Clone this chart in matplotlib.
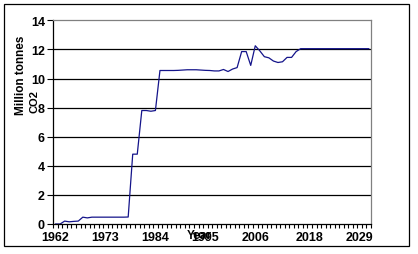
import matplotlib
matplotlib.use("Agg")
import matplotlib.pyplot as plt
from matplotlib.patches import Rectangle
from matplotlib.ticker import FixedLocator
import numpy as np

plt.rcParams['font.family'] = ['Liberation Sans', 'DejaVu Sans']

years = list(range(1962, 2032))
emissions = [
    0.0, 0.0, 0.2, 0.15, 0.18, 0.2, 0.47, 0.42, 0.47, 0.47,      # 1962-1971
    0.47, 0.47, 0.47, 0.47, 0.47, 0.47, 0.48, 4.8, 4.8, 7.8,     # 1972-1981
    7.8, 7.75, 7.8, 10.55, 10.55, 10.55, 10.55, 10.56, 10.58, 10.6,  # 1982-1991
    10.6, 10.6, 10.58, 10.56, 10.55, 10.52, 10.52, 10.62, 10.48, 10.65,  # 1992-2001
    10.75, 11.85, 11.85, 10.9, 12.25, 11.9, 11.5, 11.42, 11.2, 11.1,  # 2002-2011
    11.15, 11.45, 11.45, 11.85, 12.05, 12.05, 12.05, 12.05, 12.05, 12.05,  # 2012-2021
    12.05, 12.05, 12.05, 12.05, 12.05, 12.05, 12.05, 12.05, 12.05, 12.05,  # 2022-2031
]
label_years = [1962, 1973, 1984, 1995, 2006, 2018, 2029]
y_ticks = [0, 2, 4, 6, 8, 10, 12, 14]

W, H = 418, 255
fig = plt.figure(figsize=(W / 100, H / 100), dpi=100)

# outer chart border
fig.patches.append(Rectangle((4 / W, 1 - 247 / H), 405 / W, 242 / H,
                             transform=fig.transFigure, fill=False,
                             edgecolor='black', linewidth=0.9))

ax = fig.add_axes([53.3 / W, 1 - 225 / H, (371 - 53.3) / W, (225 - 21.3) / H])
ax.plot(years, emissions, color='#14148a', linewidth=0.9)

ax.set_xlim(1961.5, 2031.5)
ax.set_ylim(0, 14)

for v in y_ticks[1:-1]:
    ax.axhline(v, color='black', linewidth=0.9, zorder=0)

ax.set_yticks(y_ticks)
ax.set_xticks(label_years)
ax.xaxis.set_minor_locator(FixedLocator(np.arange(1961.5, 2032, 1.0)))
ax.tick_params(axis='x', which='major', length=0, pad=5)
ax.tick_params(axis='x', which='minor', length=3, width=0.8, direction='out')
ax.tick_params(axis='y', length=4, width=0.8, pad=2)
for lab in ax.get_xticklabels() + ax.get_yticklabels():
    lab.set_fontsize(9)
    lab.set_fontweight('bold')

ax.spines['top'].set_color('#808080')
ax.spines['right'].set_color('#808080')
for s in ax.spines.values():
    s.set_linewidth(0.9)

# axis titles placed like the original (overlapping the tick labels)
fig.text(21 / W, 1 - 115 / H, 'Million tonnes', rotation=90, ha='center',
         va='bottom', fontsize=8.5, fontweight='bold')
fig.text(35 / W, 1 - 113 / H, 'CO2', rotation=90, ha='center',
         va='bottom', fontsize=8, fontweight='bold')
fig.text(199 / W, 1 - 236 / H, 'Year', ha='center', va='center',
         fontsize=8.5, fontweight='bold')

fig.savefig('out.png', dpi=100)
